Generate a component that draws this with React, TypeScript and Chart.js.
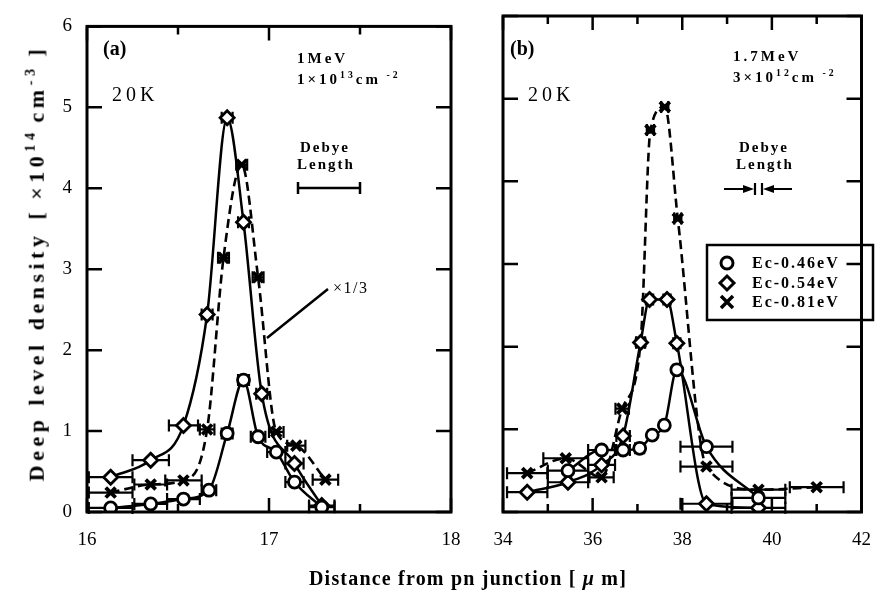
import React, { useEffect, useRef } from "react";
import { Chart, registerables } from "chart.js";
Chart.register(...registerables);

// ---------- Panel (a) data ----------
const aCircleX = [16.13, 16.35, 16.53, 16.67, 16.77, 16.86, 16.94, 17.04, 17.14, 17.29];
const aCircleY = [0.05, 0.1, 0.16, 0.27, 0.97, 1.63, 0.93, 0.74, 0.37, 0.06];
const aCircleErr = [0.12, 0.09, 0.09, 0.04, 0.03, 0.03, 0.04, 0.05, 0.05, 0.07];

const aDiamondX = [16.13, 16.35, 16.53, 16.66, 16.77, 16.86, 16.96, 17.14, 17.29];
const aDiamondY = [0.43, 0.64, 1.07, 2.44, 4.87, 3.58, 1.46, 0.6, 0.08];
const aDiamondErr = [0.12, 0.1, 0.08, 0.03, 0.03, 0.03, 0.03, 0.05, 0.07];

const aCrossX = [16.13, 16.35, 16.53, 16.66, 16.75, 16.85, 16.94, 17.04, 17.15, 17.31];
const aCrossY = [0.24, 0.34, 0.39, 1.02, 3.14, 4.29, 2.9, 0.99, 0.82, 0.4];
const aCrossErr = [0.12, 0.09, 0.1, 0.04, 0.03, 0.03, 0.03, 0.04, 0.05, 0.07];

// ---------- Panel (b) data ----------
const bCircleX = [35.45, 36.2, 36.68, 37.05, 37.33, 37.6, 37.88, 38.54, 39.7];
const bCircleY = [0.5, 0.75, 0.75, 0.77, 0.93, 1.05, 1.72, 0.79, 0.17];
const bCircleErr = [0.45, 0.3, 0.15, 0.1, 0.08, 0.08, 0.08, 0.58, 0.6];

const bDiamondX = [34.54, 35.45, 36.2, 36.68, 37.07, 37.27, 37.66, 37.88, 38.54, 39.7];
const bDiamondY = [0.24, 0.36, 0.57, 0.92, 2.05, 2.57, 2.57, 2.04, 0.1, 0.05];
const bDiamondErr = [0.45, 0.45, 0.3, 0.15, 0.1, 0.08, 0.08, 0.08, 0.58, 0.6];

const bCrossX = [34.54, 35.4, 36.2, 36.66, 37.07, 37.29, 37.61, 37.9, 38.54, 39.7, 41.0];
const bCrossY = [0.47, 0.65, 0.42, 1.25, 2.05, 4.62, 4.9, 3.55, 0.55, 0.27, 0.3];
const bCrossErr = [0.45, 0.5, 0.27, 0.15, 0.1, 0.08, 0.08, 0.08, 0.58, 0.6, 0.6];

// ---------- Axes ----------
const yMin = 0;
const yMax = 6;
const yStep = 1;
const aXMin = 16;
const aXMax = 18;
const aXStep = 0.5;
const aXMajor = 1;
const bXMin = 34;
const bXMax = 42;
const bXStep = 1;
const bXMajor = 2;

const legendLabels = ["Ec-0.46eV", "Ec-0.54eV", "Ec-0.81eV"];

const SERIF = '"Liberation Serif", "DejaVu Serif", serif';

function pts(xs: number[], ys: number[]) {
  return xs.map((x, i) => ({ x, y: ys[i] }));
}

function isMultiple(v: number, m: number) {
  const r = v / m;
  return Math.abs(r - Math.round(r)) < 1e-6;
}

const errorBarPlugin = {
  id: "errorBars",
  beforeDatasetsDraw(chart: any) {
    const ctx = chart.ctx;
    const xs = chart.scales.x;
    const ys = chart.scales.y;
    ctx.save();
    ctx.strokeStyle = "#000";
    ctx.lineWidth = 2.2;
    ctx.setLineDash([]);
    chart.data.datasets.forEach((ds: any) => {
      const errs: number[] = ds.xErr || [];
      ds.data.forEach((p: any, i: number) => {
        const e = errs[i];
        if (!e) return;
        const x1 = xs.getPixelForValue(p.x - e);
        const x2 = xs.getPixelForValue(p.x + e);
        const y = ys.getPixelForValue(p.y);
        ctx.beginPath();
        ctx.moveTo(x1, y);
        ctx.lineTo(x2, y);
        ctx.moveTo(x1, y - 6);
        ctx.lineTo(x1, y + 6);
        ctx.moveTo(x2, y - 6);
        ctx.lineTo(x2, y + 6);
        ctx.stroke();
      });
    });
    ctx.restore();
  },
};

function makeFramePlugin(xStep: number, xMajor: number) {
  return {
    id: "frameTicks",
    afterDraw(chart: any) {
      const ctx = chart.ctx;
      const a = chart.chartArea;
      const xs = chart.scales.x;
      const ys = chart.scales.y;
      ctx.save();
      ctx.strokeStyle = "#000";
      ctx.lineWidth = 3;
      ctx.setLineDash([]);
      ctx.strokeRect(a.left, a.top, a.right - a.left, a.bottom - a.top);
      ctx.beginPath();
      ctx.lineWidth = 2.5;
      for (let v = xs.min; v <= xs.max + 1e-9; v += xStep) {
        const px = xs.getPixelForValue(v);
        const len = isMultiple(v, xMajor) ? 14 : 8;
        ctx.moveTo(px, a.bottom);
        ctx.lineTo(px, a.bottom - len);
        ctx.moveTo(px, a.top);
        ctx.lineTo(px, a.top + len);
      }
      for (let v = ys.min; v <= ys.max + 1e-9; v += yStep) {
        const py = ys.getPixelForValue(v);
        ctx.moveTo(a.left, py);
        ctx.lineTo(a.left + 15, py);
        ctx.moveTo(a.right, py);
        ctx.lineTo(a.right - 15, py);
      }
      ctx.stroke();
      ctx.restore();
    },
  };
}

function drawMarker(ctx: CanvasRenderingContext2D, kind: number, x: number, y: number) {
  ctx.beginPath();
  if (kind === 0) {
    ctx.arc(x, y, 6, 0, Math.PI * 2);
    ctx.fillStyle = "#fff";
    ctx.fill();
    ctx.stroke();
  } else if (kind === 1) {
    ctx.moveTo(x, y - 7);
    ctx.lineTo(x + 7, y);
    ctx.lineTo(x, y + 7);
    ctx.lineTo(x - 7, y);
    ctx.closePath();
    ctx.fillStyle = "#fff";
    ctx.fill();
    ctx.stroke();
  } else {
    ctx.moveTo(x - 6, y - 6);
    ctx.lineTo(x + 6, y + 6);
    ctx.moveTo(x + 6, y - 6);
    ctx.lineTo(x - 6, y + 6);
    ctx.stroke();
  }
}

const annotAPlugin = {
  id: "annotA",
  afterDraw(chart: any) {
    const ctx = chart.ctx;
    ctx.save();
    ctx.strokeStyle = "#000";
    ctx.lineWidth = 2.5;
    ctx.beginPath();
    // Debye length bar
    ctx.moveTo(298, 188);
    ctx.lineTo(360, 188);
    ctx.moveTo(298, 182);
    ctx.lineTo(298, 194);
    ctx.moveTo(360, 182);
    ctx.lineTo(360, 194);
    // x1/3 leader
    ctx.moveTo(267, 338);
    ctx.lineTo(328, 289);
    ctx.stroke();
    ctx.restore();
  },
};

const annotBPlugin = {
  id: "annotB",
  afterDraw(chart: any) {
    const ctx = chart.ctx;
    ctx.save();
    ctx.strokeStyle = "#000";
    ctx.fillStyle = "#000";
    ctx.lineWidth = 2.2;
    ctx.beginPath();
    ctx.moveTo(724, 189);
    ctx.lineTo(748, 189);
    ctx.moveTo(768, 189);
    ctx.lineTo(792, 189);
    ctx.moveTo(755, 183);
    ctx.lineTo(755, 195);
    ctx.moveTo(762, 183);
    ctx.lineTo(762, 195);
    ctx.stroke();
    ctx.beginPath();
    ctx.moveTo(754, 189);
    ctx.lineTo(743, 185);
    ctx.lineTo(743, 193);
    ctx.closePath();
    ctx.moveTo(763, 189);
    ctx.lineTo(774, 185);
    ctx.lineTo(774, 193);
    ctx.closePath();
    ctx.fill();

    // legend
    ctx.lineWidth = 2.5;
    ctx.strokeRect(707, 245, 166, 75);
    ctx.font = `bold 16px ${SERIF}`;
    try {
      (ctx as any).letterSpacing = "2px";
    } catch (e) {}
    ctx.textBaseline = "middle";
    ctx.textAlign = "left";
    const rows = [263, 283, 302];
    legendLabels.forEach((t, i) => {
      ctx.lineWidth = i === 2 ? 3.5 : 3;
      drawMarker(ctx, i, 727, rows[i]);
      ctx.fillStyle = "#000";
      ctx.fillText(t, 752, rows[i] + 1);
    });
    ctx.restore();
  },
};

function datasets(cx: number[], cy: number[], ce: number[], dx: number[], dy: number[], de: number[], xx: number[], xy: number[], xe: number[]) {
  const common = {
    showLine: true,
    borderColor: "#000",
    borderWidth: 2.5,
    cubicInterpolationMode: "monotone",
    pointBorderColor: "#000",
    pointBackgroundColor: "#fff",
  };
  return [
    {
      ...common,
      label: legendLabels[2],
      data: pts(xx, xy),
      xErr: xe,
      borderDash: [9, 5],
      borderWidth: 2.6,
      pointStyle: "crossRot",
      pointRadius: 7,
      pointBorderWidth: 3.8,
      order: 3,
    },
    {
      ...common,
      label: legendLabels[1],
      data: pts(dx, dy),
      xErr: de,
      pointStyle: "rectRot",
      pointRadius: 7,
      pointBorderWidth: 2.8,
      order: 2,
    },
    {
      ...common,
      label: legendLabels[0],
      data: pts(cx, cy),
      xErr: ce,
      pointStyle: "circle",
      pointRadius: 6,
      pointBorderWidth: 2.8,
      order: 1,
    },
  ];
}

function makeConfig(panel: "a" | "b") {
  const isA = panel === "a";
  const xMin = isA ? aXMin : bXMin;
  const xMax = isA ? aXMax : bXMax;
  const xStep = isA ? aXStep : bXStep;
  const xMajor = isA ? aXMajor : bXMajor;
  const ds = isA
    ? datasets(aCircleX, aCircleY, aCircleErr, aDiamondX, aDiamondY, aDiamondErr, aCrossX, aCrossY, aCrossErr)
    : datasets(bCircleX, bCircleY, bCircleErr, bDiamondX, bDiamondY, bDiamondErr, bCrossX, bCrossY, bCrossErr);
  return {
    type: "scatter",
    data: { datasets: ds },
    options: {
      animation: false,
      responsive: false,
      maintainAspectRatio: false,
      events: [],
      layout: { padding: isA ? { left: 0, top: 16, right: 437, bottom: 0 } : { left: 0, top: 16, right: 15, bottom: 0 } },
      plugins: { legend: { display: false }, tooltip: { enabled: false } },
      scales: {
        x: {
          type: "linear",
          min: xMin,
          max: xMax,
          grid: { display: false, drawTicks: false },
          border: { display: false },
          afterFit(s: any) {
            s.height = 79;
          },
          ticks: {
            stepSize: xStep,
            autoSkip: false,
            maxRotation: 0,
            padding: 17,
            color: "#000",
            font: { family: SERIF, size: 19 },
            callback: (v: any) => (isMultiple(Number(v), xMajor) ? String(Math.round(Number(v))) : ""),
          },
        },
        y: {
          type: "linear",
          min: yMin,
          max: yMax,
          grid: { display: false, drawTicks: false },
          border: { display: false },
          afterFit(s: any) {
            s.width = isA ? 87 : 503;
          },
          ticks: {
            display: isA,
            stepSize: yStep,
            padding: 15,
            color: "#000",
            font: { family: SERIF, size: 19 },
          },
        },
      },
    },
    plugins: [errorBarPlugin, makeFramePlugin(xStep, xMajor), isA ? annotAPlugin : annotBPlugin],
  };
}

const txt = (extra: React.CSSProperties): React.CSSProperties => ({
  position: "absolute",
  fontFamily: SERIF,
  color: "#000",
  whiteSpace: "nowrap",
  lineHeight: 1,
  ...extra,
});

export default function App() {
  const refA = useRef<HTMLCanvasElement>(null);
  const refB = useRef<HTMLCanvasElement>(null);
  useEffect(() => {
    const ca = new Chart(refA.current as HTMLCanvasElement, makeConfig("a") as any);
    const cb = new Chart(refB.current as HTMLCanvasElement, makeConfig("b") as any);
    return () => {
      ca.destroy();
      cb.destroy();
    };
  }, []);
  const sup: React.CSSProperties = { fontSize: "0.65em", verticalAlign: "0.6em" };
  const small = { fontSize: 15, fontWeight: "bold", letterSpacing: 3 } as React.CSSProperties;
  const deb = { fontSize: 15, fontWeight: "bold", letterSpacing: 2 } as React.CSSProperties;
  return (
    <div style={{ position: "fixed", left: 0, top: 0, width: 888, height: 591, background: "#fff", overflow: "hidden" }}>
      <canvas ref={refA} width={888} height={591} style={{ position: "absolute", left: 0, top: 0, width: 888, height: 591 }} />
      <canvas ref={refB} width={888} height={591} style={{ position: "absolute", left: 0, top: 0, width: 888, height: 591 }} />

      <div style={txt({ left: 103, top: 38, fontSize: 20, fontWeight: "bold" })}>(a)</div>
      <div style={txt({ left: 112, top: 84, fontSize: 20, letterSpacing: 4 })}>20K</div>
      <div style={txt({ left: 297, top: 51, ...small })}>1MeV</div>
      <div style={txt({ left: 297, top: 70, ...small })}>
        1×10<span style={sup}>13</span>cm<span style={sup}> -2</span>
      </div>
      <div style={txt({ left: 300, top: 140, ...deb })}>Debye</div>
      <div style={txt({ left: 297, top: 157, ...deb })}>Length</div>
      <div style={txt({ left: 333, top: 280, fontSize: 16, letterSpacing: 1.5 })}>×1/3</div>

      <div style={txt({ left: 510, top: 38, fontSize: 20, fontWeight: "bold" })}>(b)</div>
      <div style={txt({ left: 528, top: 84, fontSize: 20, letterSpacing: 4 })}>20K</div>
      <div style={txt({ left: 733, top: 49, ...small })}>1.7MeV</div>
      <div style={txt({ left: 733, top: 68, ...small })}>
        3×10<span style={sup}>12</span>cm<span style={sup}> -2</span>
      </div>
      <div style={txt({ left: 739, top: 140, ...deb })}>Debye</div>
      <div style={txt({ left: 736, top: 157, ...deb })}>Length</div>

      <div
        style={txt({
          left: 35,
          top: 263,
          fontSize: 22,
          fontWeight: "bold",
          letterSpacing: 4.5,
          transform: "translate(-50%, -50%) rotate(-90deg)",
        })}
      >
        Deep level density
        <span style={{ marginLeft: 12 }}>[</span>
        <span style={{ marginLeft: 8 }}>×10</span>
        <span style={sup}>14</span>
        <span style={{ marginLeft: 6 }}>cm</span>
        <span style={sup}>-3</span>
        <span style={{ marginLeft: 8 }}>]</span>
      </div>
      <div style={txt({ left: 468, top: 568, fontSize: 20, fontWeight: "bold", letterSpacing: 1.2, transform: "translateX(-50%)" })}>
        Distance from pn junction [ <i>μ</i> m]
      </div>
    </div>
  );
}
